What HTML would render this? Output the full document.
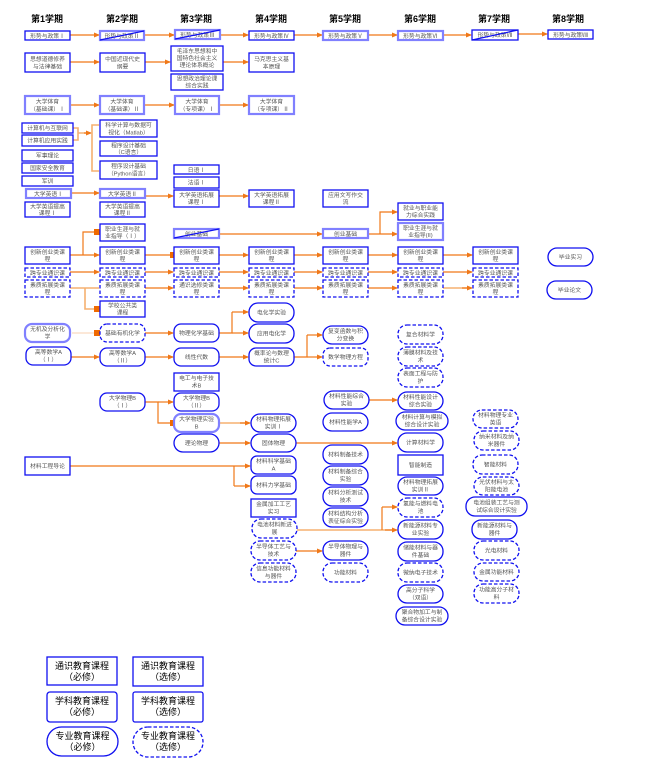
<!DOCTYPE html>
<html><head><meta charset="utf-8"><style>
html,body{margin:0;padding:0;background:#fff}
svg{display:block}
.r{fill:#fff;stroke:#1010f0;stroke-width:1.3}
.d{stroke-dasharray:3.5 2}
.l{stroke:#8080ff;stroke-width:2.2}
.t{font-family:"Liberation Sans","Noto Sans CJK SC",sans-serif;font-size:5.8px;fill:#555;text-anchor:middle}
.h{font-family:"Liberation Sans","Noto Sans CJK SC",sans-serif;font-size:9px;font-weight:bold;fill:#000;text-anchor:middle}
.g{font-family:"Liberation Sans","Noto Sans CJK SC",sans-serif;font-size:9px;fill:#000;text-anchor:middle}
.a{stroke:#f07818;stroke-width:1.2;fill:none;marker-end:url(#m)}
.n{stroke:#f07818;stroke-width:1.2;fill:none}
.f{stroke:#f5b070;stroke-width:1.6;fill:none}
.q{fill:#f06a00}
.s{stroke:#1010f0;stroke-width:1.2}
</style></head><body>
<svg width="647" height="772" viewBox="0 0 647 772">
<defs><marker id="m" markerWidth="6" markerHeight="6" refX="5" refY="3" orient="auto" markerUnits="userSpaceOnUse"><path d="M0,0.5 L6,3 L0,5.5z" fill="#f07818"/></marker></defs>
<g>
<text class="h" x="47" y="22">第1学期</text><text class="h" x="122" y="22">第2学期</text><text class="h" x="196" y="22">第3学期</text><text class="h" x="271" y="22">第4学期</text><text class="h" x="345" y="22">第5学期</text><text class="h" x="420" y="22">第6学期</text><text class="h" x="494" y="22">第7学期</text><text class="h" x="568" y="22">第8学期</text>
</g>
<!-- connectors -->
<g>
<path class="a" d="M70,35H99"/><path class="a" d="M144,35H174"/><path class="a" d="M220,35H248"/><path class="a" d="M294,35H322"/><path class="a" d="M368,35H397"/><path class="a" d="M443,35H471"/><path class="a" d="M518,34H547"/>
<path class="a" d="M70,62H99"/><path class="a" d="M145,62H170"/><path class="a" d="M223,62H248"/>
<path class="a" d="M70,105H99"/><path class="a" d="M144,105H174"/><path class="a" d="M219,105H248"/>
<path class="f" d="M73,128H78V140H73M78,133H90"/><path class="a" d="M84,133H91"/>
<path class="f" d="M99,125H92V171H99"/>
<path class="a" d="M71,193H99"/><path class="a" d="M145,196H173"/><path class="a" d="M219,196H248"/>
<path class="a" d="M219,234H322"/><path class="a" d="M368,234H397"/><path class="a" d="M380,234V212H397"/>
<path class="a" d="M70,255H99"/><path class="n" d="M83,255V232H96"/><rect class="q" x="94" y="229" width="6" height="6"/>
<path class="n" d="M145,255H172"/><rect class="q" x="170" y="252" width="6" height="6"/>
<path class="a" d="M219,255H248"/><path class="a" d="M294,255H322"/><path class="a" d="M368,255H397"/><path class="a" d="M443,255H472"/>
<path class="a" d="M70,272H99"/><path class="a" d="M145,272H173"/><path class="a" d="M219,272H248"/><path class="a" d="M294,272H322"/><path class="a" d="M368,272H397"/><path class="a" d="M443,272H472"/>
<path class="f" d="M70,288H99"/><path class="f" d="M85,288V309H96"/><rect class="q" x="94" y="306" width="6" height="6"/>
<path class="a" d="M145,288H173"/><path class="a" d="M219,288H248"/><path class="a" d="M294,288H322"/><path class="a" d="M368,288H397"/><path class="f" d="M443,288H470"/><path class="a" d="M462,288H472"/>
<path d="M72,333H96" stroke="#f8d0b0" stroke-width="1"/><rect class="q" x="94" y="330" width="6" height="6"/>
<path class="a" d="M145,333H173"/><path class="n" d="M219,333H232V312"/><path class="a" d="M232,312H248"/><path class="a" d="M232,333H248"/>
<path class="a" d="M71,357H99"/><path class="a" d="M145,357H173"/><path class="a" d="M219,357H248"/><path class="n" d="M294,357H307V335"/><path class="a" d="M307,335H322"/><path class="a" d="M307,357H322"/>
<path class="n" d="M145,402H158V423H172"/><path class="a" d="M158,402H173"/><rect class="q" x="170" y="420" width="6" height="6"/>
<path class="f" d="M219,423H248"/><path class="a" d="M240,423H250"/>
<path class="a" d="M219,443H250"/><path class="a" d="M296,443H397"/>
<path class="a" d="M369,400H397"/>
<path class="a" d="M70,466H250"/><path class="n" d="M234,466V486"/><path class="a" d="M234,486H250"/>
<path class="f" d="M297,530H392"/><path class="a" d="M385,530H397"/><path class="n" d="M382,530V507"/><path class="a" d="M382,507H397"/>
<path class="a" d="M296,551H322"/>
</g>
<!-- nodes -->
<g>
<rect class="r" x="25" y="31" width="45" height="9"/><text class="t" x="47.5" y="38">形势与政策Ⅰ</text>
<rect class="r l" x="100" y="31" width="44" height="9"/><text class="t" x="122" y="38">形势与政策Ⅱ</text><path class="s" d="M100,40L144,31"/>
<rect class="r l" x="175" y="30" width="45" height="9"/><text class="t" x="197.5" y="37">形势与政策Ⅲ</text><path class="s" d="M175,39L220,30"/>
<rect class="r" x="249" y="31" width="45" height="9"/><text class="t" x="271.5" y="38">形势与政策Ⅳ</text>
<rect class="r l" x="323" y="31" width="45" height="9"/><text class="t" x="345.5" y="38">形势与政策Ⅴ</text>
<rect class="r l" x="398" y="31" width="45" height="9"/><text class="t" x="420.5" y="38">形势与政策Ⅵ</text>
<rect class="r" x="472" y="30" width="46" height="10"/><text class="t" x="495" y="37">形势与政策Ⅶ</text><path class="s" d="M472,40L518,30"/>
<rect class="r" x="548" y="30" width="45" height="9"/><text class="t" x="570.5" y="37">形势与政策Ⅷ</text>

<rect class="r" x="25" y="53" width="45" height="19"/><text class="t" x="47.5" y="61">思想道德修养</text><text class="t" x="47.5" y="68.5">与法律基础</text>
<rect class="r" x="100" y="53" width="45" height="19"/><text class="t" x="122.5" y="61">中国近现代史</text><text class="t" x="122.5" y="68.5">纲要</text>
<rect class="r" x="171" y="46" width="52" height="25"/><text class="t" x="197" y="53">毛泽东思想和中</text><text class="t" x="197" y="60">国特色社会主义</text><text class="t" x="197" y="67">理论体系概论</text>
<rect class="r" x="171" y="74" width="52" height="16"/><text class="t" x="197" y="80.5">思想政治理论课</text><text class="t" x="197" y="87.5">综合实践</text>
<rect class="r" x="249" y="53" width="45" height="19"/><text class="t" x="271.5" y="61">马克思主义基</text><text class="t" x="271.5" y="68.5">本原理</text>

<rect class="r l" x="25" y="96" width="45" height="18"/><text class="t" x="47.5" y="103.5">大学体育</text><text class="t" x="47.5" y="111">（基础课）Ⅰ</text>
<rect class="r l" x="100" y="96" width="44" height="18"/><text class="t" x="122" y="103.5">大学体育</text><text class="t" x="122" y="111">（基础课）Ⅱ</text>
<rect class="r l" x="175" y="96" width="44" height="18"/><text class="t" x="197" y="103.5">大学体育</text><text class="t" x="197" y="111">（专项课）Ⅰ</text>
<rect class="r l" x="249" y="96" width="45" height="18"/><text class="t" x="271.5" y="103.5">大学体育</text><text class="t" x="271.5" y="111">（专项课）Ⅱ</text>

<rect class="r" x="22" y="123" width="51" height="10"/><text class="t" x="47.5" y="130">计算机与互联网</text>
<rect class="r" x="22" y="135" width="51" height="11"/><text class="t" x="47.5" y="142.5">计算机应用实践</text>
<rect class="r" x="22" y="150" width="51" height="11"/><text class="t" x="47.5" y="157.5">军事理论</text>
<rect class="r" x="22" y="163" width="51" height="10"/><text class="t" x="47.5" y="170">国家安全教育</text>
<rect class="r" x="22" y="176" width="51" height="10"/><text class="t" x="47.5" y="183">军训</text>
<rect class="r" x="100" y="120" width="57" height="17"/><text class="t" x="128.5" y="127">科学计算与数据可</text><text class="t" x="128.5" y="134.5">视化（Matlab）</text>
<rect class="r" x="100" y="141" width="57" height="15"/><text class="t" x="128.5" y="147.5">程序设计基础</text><text class="t" x="128.5" y="154">（C语言）</text>
<rect class="r" x="100" y="161" width="57" height="18"/><text class="t" x="128.5" y="168">程序设计基础</text><text class="t" x="128.5" y="175.5">（Python语言）</text>
<rect class="r" x="174" y="165" width="45" height="9"/><text class="t" x="196.5" y="172">日语Ⅰ</text>
<rect class="r" x="174" y="177" width="45" height="11"/><text class="t" x="196.5" y="184.5">法语Ⅰ</text>

<rect class="r l" x="26" y="189" width="45" height="9"/><text class="t" x="48.5" y="196">大学英语Ⅰ</text>
<rect class="r" x="25" y="202" width="45" height="15"/><text class="t" x="47.5" y="208.5">大学英语提高</text><text class="t" x="47.5" y="215">课程Ⅰ</text>
<rect class="r l" x="100" y="189" width="45" height="9"/><text class="t" x="122.5" y="196">大学英语Ⅱ</text>
<rect class="r" x="100" y="202" width="45" height="15"/><text class="t" x="122.5" y="208.5">大学英语提高</text><text class="t" x="122.5" y="215">课程Ⅱ</text>
<rect class="r" x="174" y="190" width="45" height="17"/><text class="t" x="196.5" y="197">大学英语拓展</text><text class="t" x="196.5" y="204">课程Ⅰ</text>
<rect class="r" x="249" y="190" width="45" height="17"/><text class="t" x="271.5" y="197">大学英语拓展</text><text class="t" x="271.5" y="204">课程Ⅱ</text>
<rect class="r" x="323" y="190" width="45" height="17"/><text class="t" x="345.5" y="197">应用文写作交</text><text class="t" x="345.5" y="204">流</text>

<rect class="r" x="100" y="224" width="45" height="17"/><text class="t" x="122.5" y="231">职业生涯与就</text><text class="t" x="122.5" y="238">业指导（Ⅰ）</text>
<rect class="r l" x="174" y="229" width="45" height="9"/><text class="t" x="196.5" y="236">创业基础</text><path class="s" d="M174,238L219,229"/>
<rect class="r l" x="323" y="229" width="45" height="9"/><text class="t" x="345.5" y="236">创业基础</text>
<rect class="r" x="398" y="203" width="45" height="17"/><text class="t" x="420.5" y="210">就业与职业能</text><text class="t" x="420.5" y="217">力综合实践</text>
<rect class="r l" x="398" y="223" width="45" height="17"/><text class="t" x="420.5" y="230">职业生涯与就</text><text class="t" x="420.5" y="237">业指导(II)</text>

<rect class="r" x="25" y="247" width="45" height="17"/><text class="t" x="47.5" y="254">创新创业类课</text><text class="t" x="47.5" y="261">程</text>
<rect class="r" x="100" y="247" width="45" height="17"/><text class="t" x="122.5" y="254">创新创业类课</text><text class="t" x="122.5" y="261">程</text>
<rect class="r" x="174" y="247" width="45" height="17"/><text class="t" x="196.5" y="254">创新创业类课</text><text class="t" x="196.5" y="261">程</text>
<rect class="r" x="249" y="247" width="45" height="17"/><text class="t" x="271.5" y="254">创新创业类课</text><text class="t" x="271.5" y="261">程</text>
<rect class="r" x="323" y="247" width="45" height="17"/><text class="t" x="345.5" y="254">创新创业类课</text><text class="t" x="345.5" y="261">程</text>
<rect class="r" x="398" y="247" width="45" height="17"/><text class="t" x="420.5" y="254">创新创业类课</text><text class="t" x="420.5" y="261">程</text>
<rect class="r" x="473" y="247" width="45" height="17"/><text class="t" x="495.5" y="254">创新创业类课</text><text class="t" x="495.5" y="261">程</text>

<rect class="r d" x="25" y="268" width="45" height="9"/><text class="t" x="47.5" y="275">跨专业通识课</text>
<rect class="r d" x="100" y="268" width="45" height="9"/><text class="t" x="122.5" y="275">跨专业通识课</text>
<rect class="r d" x="174" y="268" width="45" height="9"/><text class="t" x="196.5" y="275">跨专业通识课</text>
<rect class="r d" x="249" y="268" width="45" height="9"/><text class="t" x="271.5" y="275">跨专业通识课</text>
<rect class="r d" x="323" y="268" width="45" height="9"/><text class="t" x="345.5" y="275">跨专业通识课</text>
<rect class="r d" x="398" y="268" width="45" height="9"/><text class="t" x="420.5" y="275">跨专业通识课</text>
<rect class="r d" x="473" y="268" width="45" height="9"/><text class="t" x="495.5" y="275">跨专业通识课</text>

<rect class="r d" x="25" y="280" width="45" height="17"/><text class="t" x="47.5" y="287">素质拓展类课</text><text class="t" x="47.5" y="294">程</text>
<rect class="r d" x="100" y="280" width="45" height="17"/><text class="t" x="122.5" y="287">素质拓展类课</text><text class="t" x="122.5" y="294">程</text>
<rect class="r d" x="174" y="280" width="45" height="17"/><text class="t" x="196.5" y="287">通识选修类课</text><text class="t" x="196.5" y="294">程</text>
<rect class="r d" x="249" y="280" width="45" height="17"/><text class="t" x="271.5" y="287">素质拓展类课</text><text class="t" x="271.5" y="294">程</text>
<rect class="r d" x="323" y="280" width="45" height="17"/><text class="t" x="345.5" y="287">素质拓展类课</text><text class="t" x="345.5" y="294">程</text>
<rect class="r d" x="398" y="280" width="45" height="17"/><text class="t" x="420.5" y="287">素质拓展类课</text><text class="t" x="420.5" y="294">程</text>
<rect class="r d" x="473" y="280" width="45" height="17"/><text class="t" x="495.5" y="287">素质拓展类课</text><text class="t" x="495.5" y="294">程</text>
<rect class="r" x="100" y="301" width="45" height="16"/><text class="t" x="122.5" y="307.5">学校公共类</text><text class="t" x="122.5" y="314.5">课程</text>

<rect class="r" x="548" y="248" width="45" height="18" rx="9"/><text class="t" x="570.5" y="259">毕业实习</text>
<rect class="r" x="547" y="281" width="45" height="18" rx="9"/><text class="t" x="569.5" y="292">毕业论文</text>

<rect class="r" x="249" y="303" width="45" height="19" rx="9"/><text class="t" x="271.5" y="314.5">电化学实验</text>
<rect class="r l" x="25" y="324" width="45" height="18" rx="7"/><text class="t" x="47.5" y="331">无机及分析化</text><text class="t" x="47.5" y="338.5">学</text>
<rect class="r d" x="100" y="324" width="45" height="18" rx="7"/><text class="t" x="122.5" y="335">基础有机化学</text>
<rect class="r" x="174" y="324" width="45" height="18" rx="7"/><text class="t" x="196.5" y="335">物理化学基础</text>
<rect class="r" x="249" y="324" width="45" height="19" rx="9"/><text class="t" x="271.5" y="335.5">应用电化学</text>
<rect class="r" x="26" y="347" width="45" height="18" rx="7"/><text class="t" x="48.5" y="354">高等数学A</text><text class="t" x="48.5" y="361.5">（Ⅰ）</text>
<rect class="r" x="100" y="348" width="45" height="18" rx="7"/><text class="t" x="122.5" y="355">高等数学A</text><text class="t" x="122.5" y="362.5">（Ⅱ）</text>
<rect class="r" x="174" y="348" width="45" height="18" rx="7"/><text class="t" x="196.5" y="359">线性代数</text>
<rect class="r" x="249" y="348" width="45" height="18" rx="7"/><text class="t" x="271.5" y="355">概率论与数理</text><text class="t" x="271.5" y="362.5">统计C</text>
<rect class="r" x="323" y="326" width="45" height="18" rx="9"/><text class="t" x="345.5" y="333">复变函数与积</text><text class="t" x="345.5" y="340.5">分变换</text>
<rect class="r d" x="323" y="348" width="45" height="18" rx="7"/><text class="t" x="345.5" y="359">数学物理方程</text>

<rect class="r" x="174" y="373" width="45" height="18"/><text class="t" x="196.5" y="380">电工与电子技</text><text class="t" x="196.5" y="387.5">术B</text>
<rect class="r" x="100" y="393" width="45" height="18" rx="7"/><text class="t" x="122.5" y="400">大学物理B</text><text class="t" x="122.5" y="407.5">（Ⅰ）</text>
<rect class="r" x="174" y="393" width="45" height="18" rx="7"/><text class="t" x="196.5" y="400">大学物理B</text><text class="t" x="196.5" y="407.5">（Ⅱ）</text>
<rect class="r l" x="174" y="414" width="45" height="18" rx="7"/><text class="t" x="196.5" y="421">大学物理实验</text><text class="t" x="196.5" y="428.5">B</text>
<rect class="r" x="251" y="414" width="45" height="18" rx="9"/><text class="t" x="273.5" y="421">材料物理拓展</text><text class="t" x="273.5" y="428.5">实训Ⅰ</text>
<rect class="r" x="174" y="434" width="45" height="18" rx="9"/><text class="t" x="196.5" y="445">理论物理</text>
<rect class="r" x="251" y="434" width="45" height="18" rx="9"/><text class="t" x="273.5" y="445">固体物理</text>

<rect class="r" x="25" y="457" width="45" height="18"/><text class="t" x="47.5" y="468">材料工程导论</text>
<rect class="r" x="251" y="456" width="45" height="18" rx="6"/><text class="t" x="273.5" y="463">材料科学基础</text><text class="t" x="273.5" y="470.5">A</text>
<rect class="r" x="251" y="476" width="45" height="18" rx="6"/><text class="t" x="273.5" y="487">材料力学基础</text>
<rect class="r" x="251" y="499" width="45" height="18"/><text class="t" x="273.5" y="506">金属加工工艺</text><text class="t" x="273.5" y="513.5">实习</text>
<rect class="r d" x="252" y="519" width="45" height="19" rx="9"/><text class="t" x="274.5" y="526.5">电池材料新进</text><text class="t" x="274.5" y="534">展</text>
<rect class="r d" x="251" y="541" width="45" height="19" rx="9"/><text class="t" x="273.5" y="548.5">半导体工艺与</text><text class="t" x="273.5" y="556">技术</text>
<rect class="r d" x="251" y="563" width="45" height="19" rx="9"/><text class="t" x="273.5" y="570.5">信息功能材料</text><text class="t" x="273.5" y="578">与器件</text>

<rect class="r" x="324" y="391" width="45" height="18" rx="9"/><text class="t" x="346.5" y="398">材料性能综合</text><text class="t" x="346.5" y="405.5">实验</text>
<rect class="r" x="323" y="413" width="45" height="18" rx="9"/><text class="t" x="345.5" y="424">材料性能学A</text>
<rect class="r" x="323" y="445" width="45" height="19" rx="9"/><text class="t" x="345.5" y="456.5">材料制备技术</text>
<rect class="r" x="323" y="466" width="45" height="19" rx="9"/><text class="t" x="345.5" y="473.5">材料制备综合</text><text class="t" x="345.5" y="481">实验</text>
<rect class="r" x="323" y="487" width="45" height="19" rx="9"/><text class="t" x="345.5" y="494.5">材料分析测试</text><text class="t" x="345.5" y="502">技术</text>
<rect class="r" x="323" y="508" width="45" height="19" rx="9"/><text class="t" x="345.5" y="515.5">材料结构分析</text><text class="t" x="345.5" y="523">表征综合实验</text>
<rect class="r" x="323" y="541" width="45" height="19" rx="9"/><text class="t" x="345.5" y="548.5">半导体物理与</text><text class="t" x="345.5" y="556">器件</text>
<rect class="r d" x="323" y="563" width="45" height="19" rx="9"/><text class="t" x="345.5" y="574.5">功能材料</text>

<rect class="r d" x="398" y="325" width="45" height="19" rx="9"/><text class="t" x="420.5" y="336.5">复合材料学</text>
<rect class="r d" x="398" y="347" width="45" height="19" rx="9"/><text class="t" x="420.5" y="354.5">薄膜材料及技</text><text class="t" x="420.5" y="362">术</text>
<rect class="r d" x="398" y="368" width="45" height="19" rx="9"/><text class="t" x="420.5" y="375.5">表面工程与防</text><text class="t" x="420.5" y="383">护</text>
<rect class="r" x="398" y="392" width="45" height="18" rx="9"/><text class="t" x="420.5" y="399">材料性能设计</text><text class="t" x="420.5" y="406.5">综合实验</text>
<rect class="r" x="396" y="412" width="52" height="18" rx="9"/><text class="t" x="422" y="419">材料计算与模拟</text><text class="t" x="422" y="426.5">综合设计实验</text>
<rect class="r" x="398" y="433" width="45" height="19" rx="9"/><text class="t" x="420.5" y="444.5">计算材料学</text>
<rect class="r" x="398" y="455" width="45" height="20"/><text class="t" x="420.5" y="467">智能制造</text>
<rect class="r" x="398" y="477" width="45" height="18" rx="9"/><text class="t" x="420.5" y="484">材料物理拓展</text><text class="t" x="420.5" y="491.5">实训Ⅱ</text>
<rect class="r d" x="398" y="498" width="45" height="19" rx="9"/><text class="t" x="420.5" y="505.5">氢能与燃料电</text><text class="t" x="420.5" y="513">池</text>
<rect class="r" x="398" y="520" width="45" height="19" rx="9"/><text class="t" x="420.5" y="527.5">新能源材料专</text><text class="t" x="420.5" y="535">业实验</text>
<rect class="r" x="398" y="542" width="45" height="19" rx="9"/><text class="t" x="420.5" y="549.5">储能材料与器</text><text class="t" x="420.5" y="557">件基础</text>
<rect class="r d" x="398" y="563" width="45" height="19" rx="9"/><text class="t" x="420.5" y="574.5">微纳电子技术</text>
<rect class="r" x="398" y="585" width="45" height="18" rx="9"/><text class="t" x="420.5" y="592">高分子科学</text><text class="t" x="420.5" y="599.5">（双语）</text>
<rect class="r" x="396" y="607" width="52" height="18" rx="9"/><text class="t" x="422" y="614">聚合物加工与制</text><text class="t" x="422" y="621.5">备综合设计实验</text>

<rect class="r d" x="473" y="410" width="45" height="18" rx="9"/><text class="t" x="495.5" y="417">材料物理专业</text><text class="t" x="495.5" y="424.5">英语</text>
<rect class="r d" x="474" y="431" width="45" height="19" rx="9"/><text class="t" x="496.5" y="438.5">纳米材料及纳</text><text class="t" x="496.5" y="446">米器件</text>
<rect class="r d" x="473" y="455" width="45" height="19" rx="9"/><text class="t" x="495.5" y="466.5">智能材料</text>
<rect class="r d" x="474" y="477" width="45" height="18" rx="9"/><text class="t" x="496.5" y="484">光伏材料与太</text><text class="t" x="496.5" y="491.5">阳能电池</text>
<rect class="r" x="466" y="497" width="61" height="19" rx="9"/><text class="t" x="496.5" y="504.5">电池组装工艺与测</text><text class="t" x="496.5" y="512">试综合设计实验</text>
<rect class="r" x="472" y="520" width="45" height="19" rx="9"/><text class="t" x="494.5" y="527.5">新能源材料与</text><text class="t" x="494.5" y="535">器件</text>
<rect class="r d" x="474" y="541" width="45" height="19" rx="9"/><text class="t" x="496.5" y="552.5">光电材料</text>
<rect class="r d" x="474" y="563" width="45" height="18" rx="9"/><text class="t" x="496.5" y="574">金属功能材料</text>
<rect class="r d" x="474" y="584" width="45" height="19" rx="9"/><text class="t" x="496.5" y="591.5">功能高分子材</text><text class="t" x="496.5" y="599">料</text>
</g>
<!-- legend -->
<g>
<rect class="r" x="47" y="657" width="70" height="28"/><text class="g" x="82" y="669">通识教育课程</text><text class="g" x="82" y="680">（必修）</text>
<rect class="r" x="133" y="657" width="70" height="29"/><text class="g" x="168" y="669">通识教育课程</text><text class="g" x="168" y="680">（选修）</text>
<rect class="r" x="47" y="692" width="70" height="30" rx="3"/><text class="g" x="82" y="704">学科教育课程</text><text class="g" x="82" y="715">（必修）</text>
<rect class="r" x="133" y="692" width="70" height="30" rx="2"/><text class="g" x="168" y="704">学科教育课程</text><text class="g" x="168" y="715">（选修）</text>
<rect class="r" x="47" y="727" width="71" height="29" rx="14.5"/><text class="g" x="82.5" y="739">专业教育课程</text><text class="g" x="82.5" y="750">（必修）</text>
<rect class="r d" x="133" y="727" width="70" height="30" rx="15"/><text class="g" x="168" y="739">专业教育课程</text><text class="g" x="168" y="750">（选修）</text>
</g>
</svg>
</body></html>
